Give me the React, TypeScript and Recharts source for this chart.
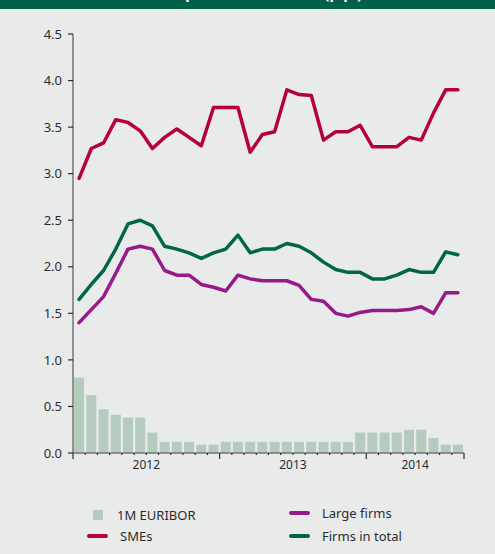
import { ComposedChart, Bar, Line, XAxis, YAxis } from "recharts";

const MONTHS = [
  "2012-01", "2012-02", "2012-03", "2012-04", "2012-05", "2012-06",
  "2012-07", "2012-08", "2012-09", "2012-10", "2012-11", "2012-12",
  "2013-01", "2013-02", "2013-03", "2013-04", "2013-05", "2013-06",
  "2013-07", "2013-08", "2013-09", "2013-10", "2013-11", "2013-12",
  "2014-01", "2014-02", "2014-03", "2014-04", "2014-05", "2014-06",
  "2014-07", "2014-08",
];

const EURIBOR = [
  0.81, 0.62, 0.47, 0.41, 0.38, 0.38, 0.22, 0.12, 0.12, 0.12, 0.09, 0.09,
  0.12, 0.12, 0.12, 0.12, 0.12, 0.12, 0.12, 0.12, 0.12, 0.12, 0.12, 0.22,
  0.22, 0.22, 0.22, 0.25, 0.25, 0.16, 0.09, 0.09,
];

const SMES = [
  2.95, 3.27, 3.33, 3.58, 3.55, 3.46, 3.27, 3.39, 3.48, 3.39, 3.3, 3.71,
  3.71, 3.71, 3.23, 3.42, 3.45, 3.9, 3.85, 3.84, 3.36, 3.45, 3.45, 3.52,
  3.29, 3.29, 3.29, 3.39, 3.36, 3.65, 3.9, 3.9,
];

const LARGE = [
  1.4, 1.54, 1.68, 1.93, 2.19, 2.22, 2.19, 1.96, 1.91, 1.91, 1.81, 1.78,
  1.74, 1.91, 1.87, 1.85, 1.85, 1.85, 1.8, 1.65, 1.63, 1.5, 1.47, 1.51,
  1.53, 1.53, 1.53, 1.54, 1.57, 1.5, 1.72, 1.72,
];

const TOTAL = [
  1.65, 1.81, 1.96, 2.19, 2.46, 2.5, 2.44, 2.22, 2.19, 2.15, 2.09, 2.15,
  2.19, 2.34, 2.15, 2.19, 2.19, 2.25, 2.22, 2.15, 2.05, 1.97, 1.94, 1.94,
  1.87, 1.87, 1.91, 1.97, 1.94, 1.94, 2.16, 2.13,
];

const Y_TICKS = [0, 0.5, 1, 1.5, 2, 2.5, 3, 3.5, 4, 4.5];

const C = {
  bg: "#e9ebea",
  header: "#00604a",
  bar: "#b4cbbd",
  smes: "#b5003d",
  large: "#97198a",
  total: "#006647",
  axis: "#747474",
  text: "#2b2b2b",
};

const FONT = "'Noto Sans', sans-serif";

const W = 495;
const H = 554;
const MARGIN = { top: 34, right: 31, bottom: 71, left: 13 };
const Y_WIDTH = 60;
const BAND = (W - MARGIN.left - MARGIN.right - Y_WIDTH) / MONTHS.length;

const data = MONTHS.map((m, i) => ({
  month: m,
  euribor: EURIBOR[i],
  smes: SMES[i],
  large: LARGE[i],
  total: TOTAL[i],
}));

// year label goes on the band edge in the middle of each year's months
const yearOf = (m: string) => m.slice(0, 4);
const labelAt: Record<number, string> = {};
Array.from(new Set(MONTHS.map(yearOf))).forEach((yr) => {
  const idx = MONTHS.map((m, i) => (yearOf(m) === yr ? i : -1)).filter((i) => i >= 0);
  labelAt[idx[0] + Math.floor(idx.length / 2)] = yr;
});

function MonthTick(props: any) {
  const { x, y, payload } = props;
  const i = payload.index;
  const left = x - BAND / 2;
  const yearStart = MONTHS[i].endsWith("-01") || i === 0;
  const last = i === MONTHS.length - 1;
  return (
    <g>
      <line x1={left} x2={left} y1={y} y2={y + (yearStart ? 6 : 2)} stroke={C.text} strokeWidth={1.2} />
      {last && (
        <line x1={x + BAND / 2} x2={x + BAND / 2} y1={y} y2={y + 6} stroke={C.text} strokeWidth={1.2} />
      )}
      {labelAt[i] && (
        <text x={left} y={y + 16} textAnchor="middle" fill={C.text} fontSize={12} fontFamily={FONT}>
          {labelAt[i]}
        </text>
      )}
    </g>
  );
}

const LEGEND = [
  { name: "1M EURIBOR", kind: "box", color: C.bar, left: 93, top: 507 },
  { name: "SMEs", kind: "line", color: C.smes, left: 87, top: 528 },
  { name: "Large firms", kind: "line", color: C.large, left: 289, top: 505 },
  { name: "Firms in total", kind: "line", color: C.total, left: 289, top: 528 },
];

export default function App() {
  return (
    <div style={{ position: "fixed", left: 0, top: 0, width: W, height: H, background: C.bg, overflow: "hidden", fontFamily: FONT }}>
      <div style={{ position: "absolute", left: 0, top: 0, width: W, height: 9, background: C.header, overflow: "hidden", zIndex: 2 }}>
        {/* the title runs off the top of the crop; only its descenders show */}
        <div
          style={{
            position: "absolute",
            right: W - 362,
            bottom: 8,
            whiteSpace: "nowrap",
            color: "#fff",
            fontSize: 15,
            fontWeight: 700,
            lineHeight: "15px",
          }}
        >
          Interest rate premium on loans (p.p.)
        </div>
      </div>
      <div style={{ position: "absolute", left: 0, top: 0 }}>
        <ComposedChart width={W} height={H} data={data} margin={MARGIN} barCategoryGap="9%">
          <XAxis
            dataKey="month"
            interval={0}
            tickLine={false}
            tickSize={0}
            tickMargin={0}
            height={30}
            axisLine={{ stroke: C.axis, strokeWidth: 1.5 }}
            tick={<MonthTick />}
          />
          <YAxis
            domain={[0, 4.5]}
            ticks={Y_TICKS}
            width={Y_WIDTH}
            tickSize={5}
            tickMargin={6}
            tickFormatter={(v: number) => v.toFixed(1)}
            axisLine={{ stroke: C.axis, strokeWidth: 1.5 }}
            tickLine={{ stroke: C.text, strokeWidth: 1.2 }}
            tick={{ fill: C.text, fontSize: 13, fontFamily: FONT }}
          />
          <Bar dataKey="euribor" fill={C.bar} isAnimationActive={false} />
          <Line type="linear" dataKey="smes" stroke={C.smes} strokeWidth={3.5} dot={false} strokeLinejoin="round" strokeLinecap="round" isAnimationActive={false} />
          <Line type="linear" dataKey="total" stroke={C.total} strokeWidth={3.5} dot={false} strokeLinejoin="round" strokeLinecap="round" isAnimationActive={false} />
          <Line type="linear" dataKey="large" stroke={C.large} strokeWidth={3.5} dot={false} strokeLinejoin="round" strokeLinecap="round" isAnimationActive={false} />
        </ComposedChart>
      </div>
      {LEGEND.map((l) => (
        <div key={l.name} style={{ position: "absolute", left: l.left, top: l.top, display: "flex", alignItems: "center", height: 16 }}>
          {l.kind === "box" ? (
            <span style={{ display: "inline-block", width: 10, height: 10, background: l.color, marginRight: 14 }} />
          ) : (
            <span style={{ display: "inline-block", width: 21, height: 4, borderRadius: 2, background: l.color, marginRight: 12 }} />
          )}
          <span style={{ fontSize: 13, color: C.text, lineHeight: "16px" }}>{l.name}</span>
        </div>
      ))}
    </div>
  );
}
